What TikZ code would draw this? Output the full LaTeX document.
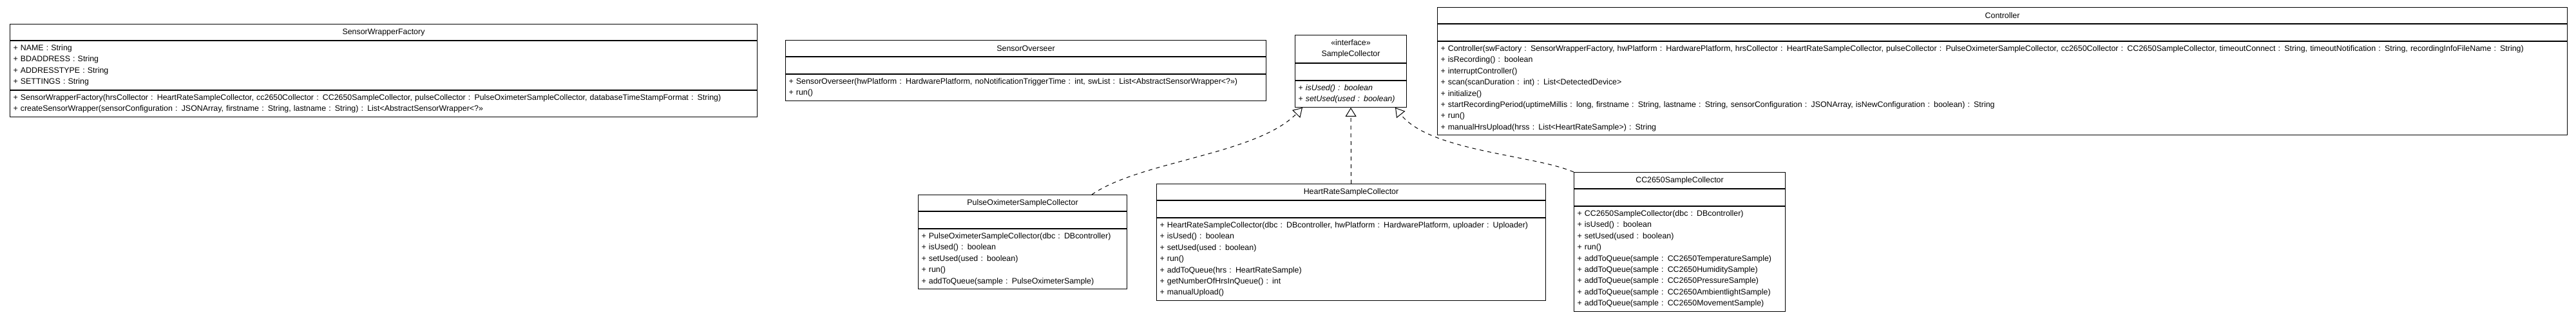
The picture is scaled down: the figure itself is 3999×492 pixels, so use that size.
\documentclass[tikz,border=0pt]{standalone}
\usepackage{fontspec}
\setmainfont{Liberation Sans}
\usetikzlibrary{positioning,arrows.meta}

\begin{document}
\begin{tikzpicture}[x=0.5pt, y=-0.5pt,
    every node/.style={font=\fontsize{6.2}{8.7}\selectfont, line width=0.5pt},
    classname/.style={draw, anchor=north west, inner sep=0pt, minimum height=12.5pt, align=center},
    classattrs/.style={draw, inner xsep=2.5pt, inner ysep=3pt, minimum height=13pt, align=left},
    classops/.style={draw, inner xsep=2.5pt, inner ysep=3pt, align=left},
    realize/.style={dash pattern=on 3pt off 3pt, line width=0.5pt, -{Triangle[open, length=7pt, width=8.5pt]}}]

    \useasboundingbox (0,0) rectangle (3999,492);

    % Clase SensorWrapperFactory
    \node (factory) [classname, minimum width=580pt] at (15,37) {SensorWrapperFactory};
    \node (factory-attrs) [classattrs, text width=575pt, below=0pt of factory]
    {+ NAME : String\\ + BDADDRESS : String\\ + ADDRESSTYPE : String\\ + SETTINGS : String};
    \node (factory-ops) [classops, text width=575pt, below=0pt of factory-attrs]
    {+ SensorWrapperFactory(hrsCollector : HeartRateSampleCollector, cc2650Collector : CC2650SampleCollector, pulseCollector : PulseOximeterSampleCollector, databaseTimeStampFormat : String)\\
     + createSensorWrapper(sensorConfiguration : JSONArray, firstname : String, lastname : String) : List<AbstractSensorWrapper<?>>};

    % Clase SensorOverseer
    \node (overseer) [classname, minimum width=373pt] at (1219,62) {SensorOverseer};
    \node (overseer-attrs) [classattrs, text width=368pt, below=0pt of overseer] {};
    \node (overseer-ops) [classops, text width=368pt, below=0pt of overseer-attrs]
    {+ SensorOverseer(hwPlatform : HardwarePlatform, noNotificationTriggerTime : int, swList : List<AbstractSensorWrapper<?>>)\\
     + run()};

    % Interfaz SampleCollector
    \node (collector) [classname, minimum width=86.5pt, minimum height=21.5pt] at (2010,54) {«interface»\\ SampleCollector};
    \node (collector-attrs) [classattrs, text width=81.5pt, below=0pt of collector] {};
    \node (collector-ops) [classops, text width=81.5pt, below=0pt of collector-attrs]
    {+ \textit{isUsed() : boolean}\\ + \textit{setUsed(used : boolean)}};

    % Clase Controller
    \node (controller) [classname, minimum width=877pt] at (2231,11) {Controller};
    \node (controller-attrs) [classattrs, text width=872pt, below=0pt of controller] {};
    \node (controller-ops) [classops, text width=872pt, below=0pt of controller-attrs]
    {+ Controller(swFactory : SensorWrapperFactory, hwPlatform : HardwarePlatform, hrsCollector : HeartRateSampleCollector, pulseCollector : PulseOximeterSampleCollector, cc2650Collector : CC2650SampleCollector, timeoutConnect : String, timeoutNotification : String, recordingInfoFileName : String)\\
     + isRecording() : boolean\\
     + interruptController()\\
     + scan(scanDuration : int) : List<DetectedDevice>\\
     + initialize()\\
     + startRecordingPeriod(uptimeMillis : long, firstname : String, lastname : String, sensorConfiguration : JSONArray, isNewConfiguration : boolean) : String\\
     + run()\\
     + manualHrsUpload(hrss : List<HeartRateSample>) : String};

    % Clase PulseOximeterSampleCollector
    \node (pulse) [classname, minimum width=162pt] at (1425,302) {PulseOximeterSampleCollector};
    \node (pulse-attrs) [classattrs, text width=157pt, below=0pt of pulse] {};
    \node (pulse-ops) [classops, text width=157pt, below=0pt of pulse-attrs]
    {+ PulseOximeterSampleCollector(dbc : DBcontroller)\\
     + isUsed() : boolean\\
     + setUsed(used : boolean)\\
     + run()\\
     + addToQueue(sample : PulseOximeterSample)};

    % Clase HeartRateSampleCollector
    \node (heartrate) [classname, minimum width=302pt] at (1795,285) {HeartRateSampleCollector};
    \node (heartrate-attrs) [classattrs, text width=297pt, below=0pt of heartrate] {};
    \node (heartrate-ops) [classops, text width=297pt, below=0pt of heartrate-attrs]
    {+ HeartRateSampleCollector(dbc : DBcontroller, hwPlatform : HardwarePlatform, uploader : Uploader)\\
     + isUsed() : boolean\\
     + setUsed(used : boolean)\\
     + run()\\
     + addToQueue(hrs : HeartRateSample)\\
     + getNumberOfHrsInQueue() : int\\
     + manualUpload()};

    % Clase CC2650SampleCollector
    \node (cc2650) [classname, minimum width=164pt] at (2443,267) {CC2650SampleCollector};
    \node (cc2650-attrs) [classattrs, text width=159pt, below=0pt of cc2650] {};
    \node (cc2650-ops) [classops, text width=159pt, below=0pt of cc2650-attrs]
    {+ CC2650SampleCollector(dbc : DBcontroller)\\
     + isUsed() : boolean\\
     + setUsed(used : boolean)\\
     + run()\\
     + addToQueue(sample : CC2650TemperatureSample)\\
     + addToQueue(sample : CC2650HumiditySample)\\
     + addToQueue(sample : CC2650PressureSample)\\
     + addToQueue(sample : CC2650AmbientlightSample)\\
     + addToQueue(sample : CC2650MovementSample)};

    % Realizaciones de la interfaz
    \draw[realize] ([xshift=-27.5pt]pulse.north east) .. controls (1770,250) and (1950,240) .. ([xshift=6pt]collector-ops.south west);
    \draw[realize] (heartrate.north) -- (collector-ops.south);
    \draw[realize] (cc2650.north west) .. controls (2380,240) and (2220,235) .. ([xshift=-9pt]collector-ops.south east);

\end{tikzpicture}
\end{document}
